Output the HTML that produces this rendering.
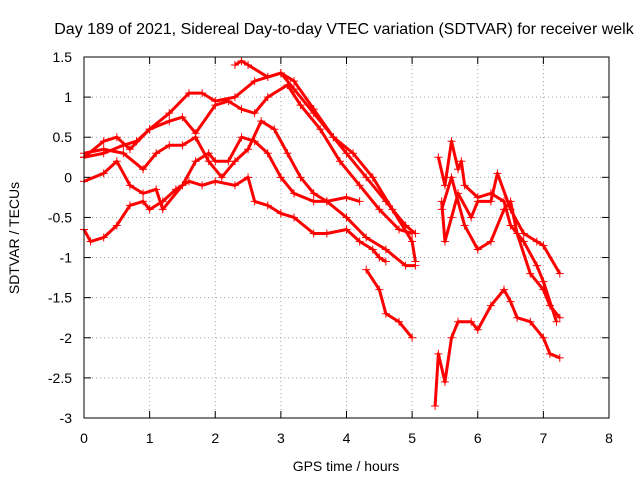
<!DOCTYPE html>
<html><head><meta charset="utf-8"><style>
body{margin:0;background:#fff}
svg{display:block;font-family:"Liberation Sans",sans-serif;font-size:14px}
</style></head><body>
<svg id="chart" width="640" height="480" viewBox="0 0 640 480">
<rect width="640" height="480" fill="#fff"/>
<text x="344" y="34" text-anchor="middle" style="font-size:16px">Day 189 of 2021, Sidereal Day-to-day VTEC variation (SDTVAR) for receiver welk</text>
<text x="346" y="471" text-anchor="middle">GPS time / hours</text>
<text transform="translate(19,238) rotate(-90)" text-anchor="middle">SDTVAR / TECUs</text>
<g id="grid"></g><g id="marks"></g>
<rect x="84" y="57" width="525" height="361" fill="none" stroke="#000"/>
</svg>
<script>
const xTicks=[0,1,2,3,4,5,6,7,8];
const yTicks=[1.5,1,0.5,0,-0.5,-1,-1.5,-2,-2.5,-3];
const s1=[[0,0.25],[0.3,0.45],[0.5,0.5],[0.7,0.35],[1.0,0.6],[1.3,0.8],[1.6,1.05],[1.8,1.05],[2.0,0.95],[2.3,1.0],[2.6,1.2],[3.0,1.3],[3.2,1.2],[3.5,0.85],[3.8,0.5],[4.0,0.3],[4.3,0.0],[4.6,-0.3],[4.9,-0.6],[5.05,-0.7]];
const s2=[[0,0.25],[0.3,0.3],[0.6,0.4],[0.8,0.45],[1.0,0.6],[1.3,0.7],[1.5,0.75],[1.7,0.55],[2.0,0.9],[2.2,0.95],[2.4,0.85],[2.6,0.8],[2.8,1.0],[3.1,1.15],[3.3,0.9],[3.6,0.6],[3.9,0.2],[4.2,-0.1],[4.5,-0.4],[4.8,-0.65],[5.0,-0.7]];
const s3=[[2.3,1.4],[2.4,1.45],[2.5,1.4],[2.8,1.25],[3.0,1.3],[3.2,1.1],[3.5,0.8],[3.8,0.5],[4.1,0.3],[4.4,0.0],[4.7,-0.4],[5.0,-0.8],[5.05,-1.05]];
const s4=[[0,0.3],[0.3,0.35],[0.6,0.3],[0.9,0.1],[1.1,0.3],[1.3,0.4],[1.5,0.4],[1.7,0.5],[1.9,0.2],[2.1,0.0],[2.3,0.2],[2.5,0.35],[2.7,0.7],[2.9,0.6],[3.1,0.3],[3.3,0.0],[3.5,-0.2],[3.7,-0.3],[4.0,-0.25],[4.2,-0.3]];
const s5=[[0,-0.05],[0.3,0.05],[0.5,0.2],[0.7,-0.1],[0.9,-0.2],[1.1,-0.15],[1.2,-0.4],[1.5,-0.1],[1.7,0.2],[1.9,0.3],[2.0,0.2],[2.2,0.2],[2.4,0.5],[2.6,0.45],[2.8,0.3],[3.0,0.0],[3.2,-0.2],[3.5,-0.3],[3.7,-0.3],[4.0,-0.5],[4.3,-0.75],[4.6,-0.9],[4.9,-1.1],[5.05,-1.1]];
const s6=[[0,-0.65],[0.1,-0.8],[0.3,-0.75],[0.5,-0.6],[0.7,-0.35],[0.9,-0.3],[1.0,-0.4],[1.2,-0.3],[1.4,-0.15],[1.6,-0.05],[1.8,-0.1],[2.0,-0.05],[2.3,-0.1],[2.5,0.0],[2.6,-0.3],[2.8,-0.35],[3.0,-0.45],[3.2,-0.5],[3.5,-0.7],[3.7,-0.7],[4.0,-0.65],[4.2,-0.8],[4.4,-0.9],[4.5,-1.0],[4.6,-1.05]];
const s7=[[4.3,-1.15],[4.5,-1.4],[4.6,-1.7],[4.8,-1.8],[5.0,-2.0]];
const r1=[[5.4,0.25],[5.5,-0.1],[5.6,0.45],[5.7,0.1],[5.75,0.2],[5.8,-0.1],[6.0,-0.25],[6.2,-0.2],[6.4,-0.3],[6.5,-0.6],[6.7,-0.8],[6.9,-1.1],[7.0,-1.3],[7.2,-1.8]];
const r2=[[5.45,-0.3],[5.5,-0.8],[5.6,-0.5],[5.7,-0.2],[5.9,-0.5],[6.0,-0.3],[6.2,-0.3],[6.3,0.05],[6.5,-0.4],[6.7,-0.7],[6.9,-0.8],[7.0,-0.85],[7.25,-1.2]];
const r3=[[5.45,-0.4],[5.6,0.0],[5.8,-0.6],[6.0,-0.9],[6.2,-0.8],[6.4,-0.4],[6.5,-0.3],[6.6,-0.7],[6.8,-1.2],[7.0,-1.4],[7.1,-1.6],[7.25,-1.75]];
const r4=[[5.35,-2.85],[5.4,-2.2],[5.5,-2.55],[5.6,-2.0],[5.7,-1.8],[5.9,-1.8],[6.0,-1.9],[6.2,-1.6],[6.4,-1.4],[6.5,-1.55],[6.6,-1.75],[6.8,-1.8],[7.0,-2.0],[7.1,-2.2],[7.25,-2.25]];
const seriesList=[s1,s2,s3,s4,s5,s6,s7,r1,r2,r3,r4];
const X=v=>84+v*65.625, Y=v=>57+(1.5-v)*80.22;
const NS='http://www.w3.org/2000/svg';
const grid=document.getElementById('grid'), marks=document.getElementById('marks');
function mk(tag,at,parent){const e=document.createElementNS(NS,tag);for(const k in at)e.setAttribute(k,at[k]);parent.appendChild(e);return e;}
xTicks.forEach(t=>{const x=X(t);
 if(t>0&&t<8){const g=mk('line',{x1:x,x2:x,y1:57,y2:418,stroke:'#a0a0a0','stroke-dasharray':'1,3'},grid);
 
 }
 mk('line',{x1:x,x2:x,y1:418,y2:411,stroke:'#000'},grid);mk('line',{x1:x,x2:x,y1:57,y2:64,stroke:'#000'},grid);
 const l=mk('text',{x:x,y:443,'text-anchor':'middle'},grid);l.textContent=t;
 
 });
yTicks.forEach(t=>{const y=Y(t);
 if(t<1.5&&t>-3){const g=mk('line',{x1:84,x2:609,y1:y,y2:y,stroke:'#a0a0a0','stroke-dasharray':'1,3'},grid);
 
 }
 mk('line',{x1:84,x2:91,y1:y,y2:y,stroke:'#000'},grid);mk('line',{x1:609,x2:602,y1:y,y2:y,stroke:'#000'},grid);
 const l=mk('text',{x:72,y:y+5,'text-anchor':'end'},grid);l.textContent=t;
 
 });
seriesList.forEach((s,i)=>{
 const p=mk('polyline',{points:s.map(d=>X(d[0])+','+Y(d[1])).join(' '),fill:'none',stroke:'#ff0000','stroke-width':3,'stroke-linejoin':'round'},marks);
 
 
 s.forEach(d=>{const x=X(d[0]),y=Y(d[1]);
  const m=mk('path',{d:`M${x-4},${y}H${x+4}M${x},${y-4}V${y+4}`,stroke:'#ff0000','stroke-width':1},marks);
  
  });
});
</script>
</body></html>
